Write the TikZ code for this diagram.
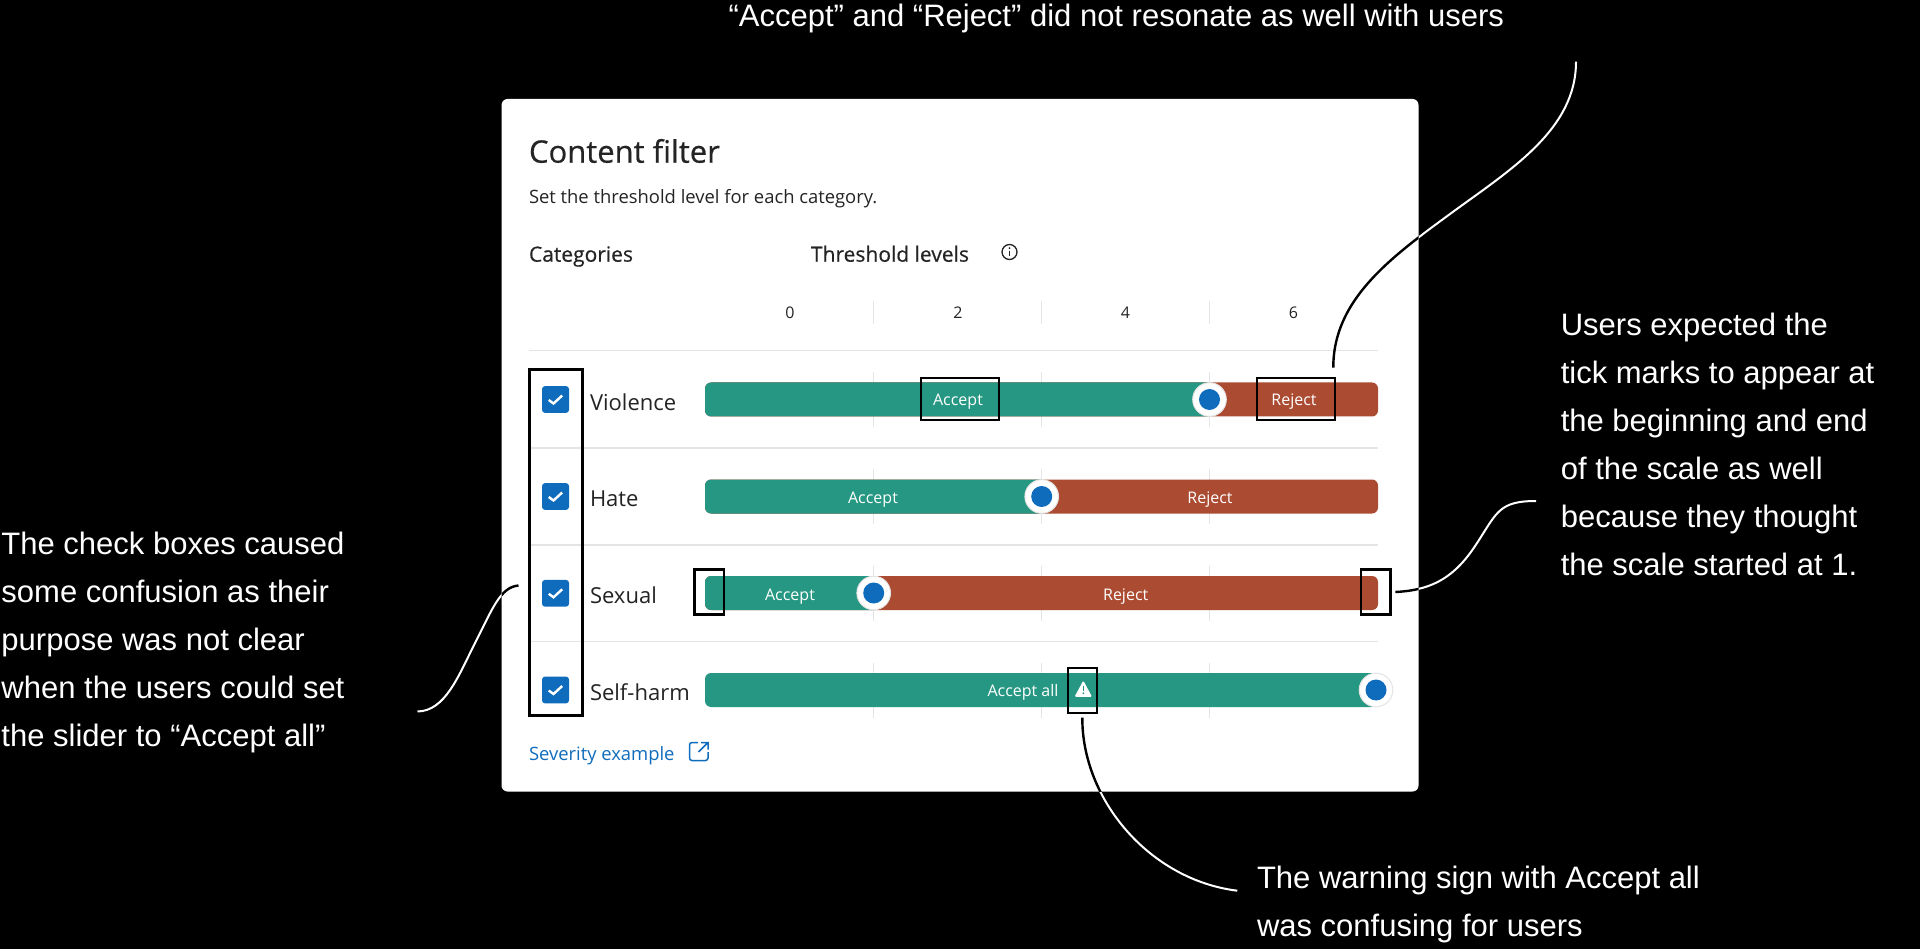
\documentclass[tikz,border=0pt]{standalone}
\usepackage{fontspec}
\setmainfont{Open Sans}
\newfontfamily\annfont{Liberation Sans}
\newfontfamily\uibold{Open Sans}[FakeBold=0.5]
\usetikzlibrary{calc}
\definecolor{teal1}{HTML}{269782}
\definecolor{red1}{HTML}{AB4B32}
\definecolor{blue1}{HTML}{0F6CBD}
\definecolor{ink}{HTML}{242424}
\definecolor{sepc}{HTML}{E4E4E4}
\tikzset{
  txt/.style={inner sep=0pt,outer sep=0pt,anchor=base west,text=ink},
  ann/.style={inner sep=0pt,outer sep=0pt,anchor=north west,align=left,text=white,font={\annfont\fontsize{31}{48}\selectfont}},
  barlabel/.style={inner sep=0pt,anchor=base,text=white,font={\fontsize{16}{18}\selectfont}},
  rowlabel/.style={txt,font={\fontsize{22}{24}\selectfont}},
  numlabel/.style={inner sep=0pt,anchor=base,text=ink,font={\fontsize{16}{18}\selectfont}},
  sepline/.style={sepc,line width=1.6pt},
  tickline/.style={sepc,line width=1.5pt},
  callout/.style={draw=black,line width=2.4pt,fill=none},
  leaderw/.style={draw=white,line width=2pt},
  leaderb/.style={draw=black,line width=2.4pt},
}
\newcommand\curveTop{(tA) .. controls (1576,130) and (1510,170) .. (1450,214) .. controls (1390,258) and (1333,300) .. (tB)}
\newcommand\curveRight{(rA) .. controls (1440,590) and (1460,570) .. (1479,540) .. controls (1497,512) and (1500,501) .. (rB)}
\newcommand\curveLeft{(lA) .. controls (500,587) and (492,610) .. (475,643) .. controls (458,677) and (445,711) .. (lB)}
\newcommand\curveBottom{(bA) .. controls (1082,800) and (1150,880) .. (bB)}
\begin{document}
\begin{tikzpicture}[x=1pt,y=-1pt]
\useasboundingbox (0,0) rectangle (1920,949);
\fill[black] (0,0) rectangle (1920,949);
% card
\fill[white,rounded corners=6pt] (501.5,99) rectangle (1418.5,791.5);
\node[txt,font={\uibold\fontsize{31}{34}\selectfont}] (title) at (529,162.7) {Content filter};
\node[txt,font={\fontsize{18.4}{20}\selectfont}] (sub) at (529,203.3) {Set the threshold level for each category.};
\node[txt,font={\uibold\fontsize{21}{24}\selectfont}] (cat) at (529,261.7) {Categories};
\node[txt,font={\uibold\fontsize{21}{24}\selectfont}] (thr) at (811,261.7) {Threshold levels};
% info icon
\draw[ink,line width=1.3pt] (1009.5,252) circle (7.5);
\fill[ink] (1009.5,248.2) circle (1);
\draw[ink,line width=1.4pt] (1009.5,251) -- (1009.5,256.5);
% header numbers
\node[numlabel] (n0) at (790,319) {0};
\node[numlabel] (n2) at (958,319) {2};
\node[numlabel] (n4) at (1125.5,319) {4};
\node[numlabel] (n6) at (1293.5,319) {6};
% separators
\foreach \y in {350.7,447.7,545,641.3} \draw[sepline] (529,\y) -- (1378,\y);
% ticks
\foreach \x in {873.7,1041.7,1209.3} {
  \draw[tickline] (\x,301) -- (\x,324);
  \foreach \c in {399.5,496.5,593,690} \draw[tickline] (\x,\c-27.5) -- (\x,\c+27.5);
}
% bars
\foreach \c/\k in {399.5/1209.5,496.5/1041.7,593/873.7} {
  \fill[red1,rounded corners=6pt] (705,\c-17) rectangle (1378,\c+17);
  \begin{scope}
    \clip (700,\c-20) rectangle (\k,\c+20);
    \fill[teal1,rounded corners=6pt] (705,\c-17) rectangle (1378,\c+17);
  \end{scope}
}
\fill[teal1,rounded corners=6pt] (705,673) rectangle (1378,707);
% thumbs
\foreach \x/\y in {1209.5/399.5,1041.7/496.5,873.7/593,1376/690} {
  \fill[white] (\x,\y) circle (16.8);
  \draw[sepc,line width=1pt] (\x,\y) circle (16.8);
  \fill[blue1] (\x,\y) circle (10.5);
}
% bar labels
\node[barlabel] (a1) at (958,406) {Accept};
\node[barlabel] (r1) at (1294,406) {Reject};
\node[barlabel] (a2) at (873,503) {Accept};
\node[barlabel] (r2) at (1210,503) {Reject};
\node[barlabel] (a3) at (790,600) {Accept};
\node[barlabel] (r3) at (1125.7,600) {Reject};
\node[barlabel] (a4) at (1023,696.7) {Accept all};
% warning sign
\fill[white,rounded corners=1.2pt] (1083.3,680.5) -- (1092,696.8) -- (1074.6,696.8) -- cycle;
\draw[teal1,line width=1.6pt] (1083.3,685.5) -- (1083.3,690.5);
\fill[teal1] (1083.3,693.3) circle (1);
% checkboxes
\foreach \c in {399.5,496.5,593.3,690} {
  \fill[blue1,rounded corners=3pt] (542,\c-13.4) rectangle (569,\c+13.4);
  \draw[white,line width=2.4pt] (548.8,\c+.5) -- (553.5,\c+4) -- (562.2,\c-4);
}
% row labels
\node[rowlabel] (l1) at (590,410) {Violence};
\node[rowlabel] (l2) at (590,506.7) {Hate};
\node[rowlabel] (l3) at (590,603.5) {Sexual};
\node[rowlabel] (l4) at (590,700) {Self-harm};
% link
\node[txt,text=blue1,font={\fontsize{18.4}{20}\selectfont}] (sev) at (529,760) {Severity example};
\draw[blue1,line width=1.5pt,rounded corners=2.5pt] (698,742.5) -- (689.5,742.5) -- (689.5,760.5) -- (708,760.5) -- (708,752);
\draw[blue1,line width=1.5pt] (698.5,752) -- (708,742.5) (701,742.5) -- (708,742.5) -- (708,749.5);
% highlight boxes
\draw[callout] (529.5,369.5) rectangle (582.5,715.5);
\draw[callout] (921.2,377.8) rectangle (998.8,419.8);
\draw[callout] (1257.2,377.8) rectangle (1334.8,419.8);
\draw[callout] (694.5,569.5) rectangle (724.2,614.5);
\draw[callout] (1361.2,569.3) rectangle (1390.5,614.5);
\draw[callout] (1067.8,667.8) rectangle (1097.2,713.2);
% leader end points
\coordinate (tA) at (1576,61.7);
\coordinate (tB) at (1333.3,367.7);
\coordinate (rA) at (1395.3,592);
\coordinate (rB) at (1536,501);
\coordinate (lA) at (518.5,585.5);
\coordinate (lB) at (417.5,711.5);
\coordinate (bA) at (1082.3,717.7);
\coordinate (bB) at (1237.3,890.7);
% leaders: white over black, black over the card
\draw[leaderw] \curveTop;
\draw[leaderw] \curveRight;
\draw[leaderw] \curveLeft;
\draw[leaderw] \curveBottom;
\begin{scope}
  \clip (501.5,99) rectangle (1418.5,791.5);
  \draw[leaderb] \curveTop;
  \draw[leaderb] \curveRight;
  \draw[leaderb] \curveLeft;
  \draw[leaderb] \curveBottom;
\end{scope}
% annotations
\node[ann] (noteT) at (728.6,4) {“Accept” and “Reject” did not resonate as well with users};
\node[ann] (noteR) at (1560.8,313) {Users expected the\\tick marks to appear at\\the beginning and end\\of the scale as well\\because they thought\\the scale started at 1.};
\node[ann] (noteL) at (1.5,532) {The check boxes caused\\some confusion as their\\purpose was not clear\\when the users could set\\the slider to “Accept all”};
\node[ann] (noteB) at (1257,866) {The warning sign with Accept all\\was confusing for users};
\end{tikzpicture}
\end{document}
